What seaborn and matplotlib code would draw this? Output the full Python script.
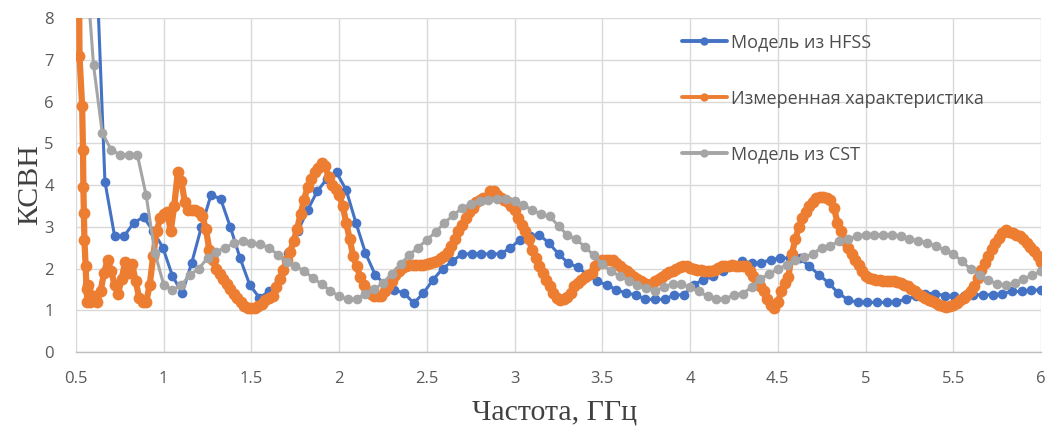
import numpy as np
import pandas as pd
import matplotlib
matplotlib.use("Agg")
import matplotlib.pyplot as plt
import seaborn as sns

# ---- HFSS model: uniform sweep, 101 points from 0.5 to 6 GHz ----
hfss_f_start, hfss_f_stop, hfss_n = 0.5, 6.0, 101
hfss_vswr = [
    20.0, 15.0, 10.0, 4.08, 2.78, 2.78, 3.10, 3.23, 2.90, 2.50,
    1.82, 1.41, 2.14, 3.00, 3.77, 3.66, 2.99, 2.25, 1.61, 1.30,
    1.45, 1.73, 2.38, 2.90, 3.40, 3.85, 4.15, 4.30, 3.88, 3.10,
    2.37, 1.85, 1.62, 1.49, 1.41, 1.17, 1.41, 1.73, 2.00, 2.17,
    2.35, 2.35, 2.35, 2.35, 2.35, 2.49, 2.69, 2.78, 2.81, 2.61,
    2.35, 2.13, 2.03, 1.85, 1.69, 1.61, 1.49, 1.41, 1.37, 1.26,
    1.26, 1.26, 1.37, 1.37, 1.61, 1.73, 1.81, 1.95, 2.05, 2.17,
    2.14, 2.14, 2.21, 2.25, 2.25, 2.25, 2.05, 1.85, 1.65, 1.41,
    1.25, 1.19, 1.19, 1.19, 1.19, 1.20, 1.27, 1.33, 1.40, 1.40,
    1.35, 1.33, 1.33, 1.37, 1.37, 1.37, 1.40, 1.45, 1.45, 1.48,
    1.49,
]

# ---- CST model: uniform sweep, 111 points from 0.5 to 6 GHz ----
cst_f_start, cst_f_stop, cst_n = 0.5, 6.0, 111
cst_vswr = [
    13.0, 9.70, 6.87, 5.24, 4.85, 4.72, 4.72, 4.72, 3.75, 2.37,
    1.61, 1.49, 1.60, 1.85, 2.00, 2.25, 2.40, 2.50, 2.60, 2.67,
    2.62, 2.58, 2.50, 2.33, 2.15, 2.07, 1.93, 1.78, 1.62, 1.47,
    1.33, 1.26, 1.27, 1.40, 1.50, 1.65, 1.88, 2.10, 2.33, 2.50,
    2.69, 2.87, 3.10, 3.27, 3.45, 3.55, 3.62, 3.65, 3.67, 3.67,
    3.62, 3.52, 3.40, 3.30, 3.25, 3.02, 2.80, 2.70, 2.52, 2.32,
    2.10, 1.93, 1.82, 1.70, 1.60, 1.53, 1.47, 1.55, 1.63, 1.63,
    1.55, 1.45, 1.33, 1.27, 1.27, 1.37, 1.40, 1.55, 1.75, 1.87,
    1.98, 2.08, 2.20, 2.27, 2.35, 2.50, 2.55, 2.65, 2.70, 2.78,
    2.81, 2.81, 2.81, 2.81, 2.78, 2.70, 2.66, 2.62, 2.53, 2.45,
    2.35, 2.17, 1.98, 1.85, 1.72, 1.63, 1.60, 1.66, 1.74, 1.85,
    1.93,
]

# ---- Measured: dense start near 0.52 GHz, then 0.02 GHz steps ----
meas_f_head = [0.515, 0.520, 0.535, 0.540, 0.542, 0.545, 0.548, 0.555, 0.560, 0.565, 0.570]
meas_v_head = [10.5, 7.08, 5.90, 4.84, 3.96, 3.33, 2.69, 2.05, 1.50, 1.20, 1.60]
meas_f_start, meas_f_stop, meas_step = 0.58, 6.0, 0.02
meas_v_body = [
    1.20, 1.35, 1.20, 1.45, 1.90, 2.20, 1.95, 1.60, 1.40, 1.75,   # 0.58 - 0.76
    2.15, 1.90, 2.10, 1.70, 1.30, 1.20, 1.20, 1.60, 2.30, 2.90,   # 0.78 - 0.96
    3.20, 3.30, 3.35, 2.90, 3.50, 4.30, 4.10, 3.60, 3.40, 3.40,   # 0.98 - 1.16
    3.40, 3.35, 3.25, 2.95, 2.45, 2.20, 2.00, 1.88, 1.75, 1.62,   # 1.18 - 1.36
    1.50, 1.40, 1.30, 1.20, 1.10, 1.06, 1.05, 1.05, 1.10, 1.15,   # 1.38 - 1.56
    1.25, 1.30, 1.35, 1.55, 1.75, 1.97, 2.20, 2.40, 2.65, 2.95,   # 1.58 - 1.76
    3.30, 3.65, 3.95, 4.15, 4.30, 4.40, 4.52, 4.45, 4.20, 4.00,   # 1.78 - 1.96
    3.90, 3.75, 3.50, 3.10, 2.70, 2.30, 2.05, 1.80, 1.60, 1.45,   # 1.98 - 2.16
    1.38, 1.33, 1.33, 1.35, 1.45, 1.57, 1.70, 1.85, 1.95, 2.02,   # 2.18 - 2.36
    2.05, 2.08, 2.09, 2.09, 2.09, 2.09, 2.10, 2.12, 2.15, 2.18,   # 2.38 - 2.56
    2.25, 2.30, 2.40, 2.53, 2.70, 2.90, 3.05, 3.20, 3.35, 3.45,   # 2.58 - 2.76
    3.60, 3.65, 3.68, 3.70, 3.85, 3.85, 3.75, 3.70, 3.65, 3.60,   # 2.78 - 2.96
    3.50, 3.40, 3.22, 3.05, 2.90, 2.70, 2.45, 2.25, 2.05, 1.90,   # 2.98 - 3.16
    1.73, 1.58, 1.41, 1.30, 1.25, 1.27, 1.32, 1.42, 1.57, 1.65,   # 3.18 - 3.36
    1.73, 1.80, 1.85, 1.90, 2.05, 2.15, 2.20, 2.20, 2.20, 2.20,   # 3.38 - 3.56
    2.12, 2.05, 2.00, 1.93, 1.88, 1.80, 1.75, 1.70, 1.65, 1.60,   # 3.58 - 3.76
    1.62, 1.70, 1.75, 1.80, 1.87, 1.92, 1.95, 2.00, 2.03, 2.05,   # 3.78 - 3.96
    2.05, 2.02, 1.98, 1.97, 1.96, 1.95, 1.95, 1.95, 1.97, 2.02,   # 3.98 - 4.16
    2.05, 2.05, 2.07, 2.08, 2.07, 2.06, 2.05, 2.05, 1.95, 1.82,   # 4.18 - 4.36
    1.70, 1.57, 1.45, 1.28, 1.12, 1.05, 1.20, 1.45, 1.65, 1.80,   # 4.38 - 4.56
    2.35, 2.70, 3.00, 3.20, 3.35, 3.50, 3.60, 3.68, 3.72, 3.72,   # 4.58 - 4.76
    3.70, 3.65, 3.45, 3.10, 2.90, 2.65, 2.50, 2.35, 2.20, 2.08,   # 4.78 - 4.96
    1.95, 1.82, 1.77, 1.74, 1.73, 1.72, 1.70, 1.70, 1.69, 1.69,   # 4.98 - 5.16
    1.68, 1.65, 1.61, 1.57, 1.52, 1.46, 1.40, 1.35, 1.30, 1.25,   # 5.18 - 5.36
    1.21, 1.17, 1.12, 1.09, 1.08, 1.09, 1.12, 1.18, 1.24, 1.30,   # 5.38 - 5.56
    1.36, 1.45, 1.57, 1.77, 1.97, 2.12, 2.30, 2.47, 2.60, 2.72,   # 5.58 - 5.76
    2.85, 2.93, 2.88, 2.85, 2.80, 2.77, 2.70, 2.61, 2.52, 2.43,   # 5.78 - 5.96
    2.30, 2.15,                                                   # 5.98 - 6.00
]

labels = ["Модель из HFSS", "Измеренная характеристика", "Модель из CST"]
colors = ["#4472C4", "#ED7D31", "#A5A5A5"]

hfss_f = np.linspace(hfss_f_start, hfss_f_stop, hfss_n)
cst_f = np.linspace(cst_f_start, cst_f_stop, cst_n)
meas_f = meas_f_head + list(np.round(np.arange(meas_f_start, meas_f_stop + 1e-9, meas_step), 3))
meas_v = meas_v_head + meas_v_body

df_hfss = pd.DataFrame({"f": hfss_f, "v": hfss_vswr})
df_meas = pd.DataFrame({"f": meas_f, "v": meas_v})
df_cst = pd.DataFrame({"f": cst_f, "v": cst_vswr})

sns.set_style("white")
tick_font = "Open Sans"
serif_font = "Liberation Serif"

fig = plt.figure(figsize=(10.51, 4.30), dpi=100)
ax = fig.add_axes([0.0723, 0.1814, 0.9182, 0.7767])

common = dict(ax=ax, x="f", y="v", marker="o", estimator=None, sort=False,
              markeredgewidth=0)
sns.lineplot(data=df_hfss, color=colors[0], linewidth=2.2, markersize=7.0,
             label=labels[0], zorder=3, **common)
sns.lineplot(data=df_meas, color=colors[1], linewidth=4.5, markersize=8.5,
             label=labels[1], zorder=4, **common)
sns.lineplot(data=df_cst, color=colors[2], linewidth=2.2, markersize=7.0,
             label=labels[2], zorder=5, **common)

ax.set_xlim(0.5, 6.0)
ax.set_ylim(0, 8)
xt = np.arange(0.5, 6.01, 0.5)
ax.set_xticks(xt)
ax.set_xticklabels([f"{t:g}" for t in xt])
ax.set_yticks(range(0, 9))
ax.set_xticks(np.arange(0.5, 6.01, 0.1), minor=True)

ax.grid(True, which="major", color="#d9d9d9", linewidth=1.0)
ax.set_axisbelow(True)
for side in ["top", "right", "left"]:
    ax.spines[side].set_visible(False)
ax.spines["bottom"].set_color("#bfbfbf")
ax.spines["bottom"].set_linewidth(1.0)

ax.tick_params(axis="x", which="major", direction="in", length=4, color="#bfbfbf",
               pad=14, labelsize=12, labelcolor="#595959")
ax.tick_params(axis="x", which="minor", direction="in", length=4, color="#bfbfbf")
ax.tick_params(axis="y", which="major", length=0, pad=16, labelsize=12,
               labelcolor="#595959")
for lab in ax.get_xticklabels() + ax.get_yticklabels():
    lab.set_fontfamily(tick_font)

ax.set_xlabel("Частота, ГГц", fontsize=21.5, fontfamily=serif_font, color="#404040")
ax.set_ylabel("КСВН", fontsize=21.5, fontfamily=serif_font, color="#404040")
ax.xaxis.set_label_coords(0.496, -0.18)
ax.xaxis.label.set_va("center")
ax.yaxis.set_label_coords(-0.048, 0.5)
ax.yaxis.label.set_va("center")

leg = ax.legend(loc="upper left", bbox_to_anchor=(0.62, 0.975), frameon=False,
                prop={"family": tick_font, "size": 13}, labelcolor="#4d4d4d",
                handlelength=2.5, handletextpad=0.25, labelspacing=2.1,
                borderaxespad=0)
for h in leg.legend_handles:
    h.set_markersize(6)
    h.set_linewidth(2.8)

fig.savefig("out.png", dpi=100)
